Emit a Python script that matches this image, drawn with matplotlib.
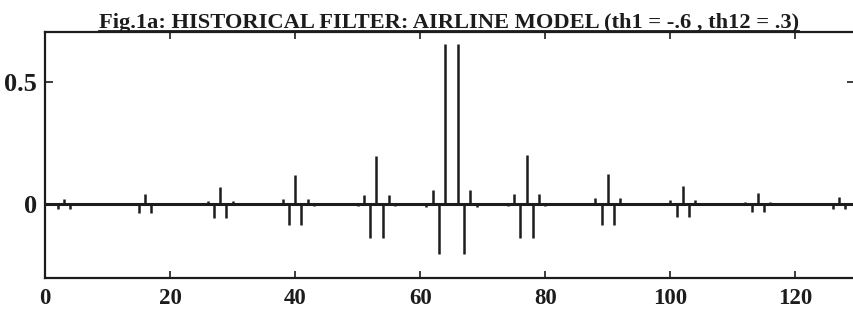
import matplotlib.pyplot as plt
from matplotlib.lines import Line2D

plt.rcParams['font.family'] = ['Liberation Serif', 'DejaVu Serif']

# filter weights (lag position, weight)
lags = [2, 3, 4,
        15, 16, 17,
        25, 26, 27, 28, 29, 30, 31,
        37, 38, 39, 40, 41, 42, 43,
        50, 51, 52, 53, 54, 55, 56,
        61, 62, 63, 64, 66, 67, 68, 69,
        74, 75, 76, 77, 78, 79, 80,
        87, 88, 89, 90, 91, 92, 93,
        100, 101, 102, 103, 104,
        112, 113, 114, 115, 116,
        125, 126, 127, 128]
weights = [-0.022, 0.02, -0.022,
           -0.037, 0.041, -0.037,
           -0.004, 0.012, -0.056, 0.068, -0.056, 0.012, -0.004,
           -0.005, 0.02, -0.087, 0.119, -0.087, 0.02, -0.008,
           -0.01, 0.038, -0.14, 0.198, -0.14, 0.038, -0.01,
           -0.012, 0.057, -0.205, 0.657, 0.657, -0.205, 0.057, -0.012,
           -0.008, 0.04, -0.138, 0.2, -0.138, 0.04, -0.01,
           -0.005, 0.023, -0.086, 0.123, -0.086, 0.023, -0.004,
           0.016, -0.052, 0.074, -0.052, 0.016,
           0.008, -0.034, 0.046, -0.034, 0.008,
           0.006, -0.022, 0.03, -0.022]

xticks = [0, 20, 40, 60, 80, 100, 120]
yticks = [0, 0.5]
yticklabels = ['0', '0.5']
title = 'Fig.1a: HISTORICAL FILTER: AIRLINE MODEL (th1 = -.6 , th12 = .3)'

ink = '#1c1c1c'

fig = plt.figure(figsize=(8.54, 3.13), dpi=100)
ax = fig.add_axes([45 / 854, 1 - 278 / 313, 1 - 45 / 854 + 0.001, (278 - 32) / 313])

ax.vlines(lags, 0, weights, color=ink, linewidth=1.8)
ax.axhline(0, color=ink, linewidth=2.2)

ax.set_xlim(0, 129.5)
ax.set_ylim(-0.303, 0.705)

for sp in ax.spines.values():
    sp.set_color(ink)
    sp.set_linewidth(1.6)

ax.set_xticks(xticks)
ax.set_xticklabels([str(v) for v in xticks], fontweight='bold')
ax.set_yticks(yticks)
ax.set_yticklabels(yticklabels, fontweight='bold')
ax.tick_params(axis='x', direction='in', length=5, width=1.2, top=True,
               labelsize=16.5, pad=7, colors=ink)
ax.tick_params(axis='y', direction='in', length=6, width=1.2, right=True,
               labelsize=19, pad=6, colors=ink)

t = fig.text(0.526, 1 - 28 / 313, title, ha='center', va='baseline',
             fontsize=16.2, fontweight='bold', color=ink)

# underline the title
fig.canvas.draw()
bb = t.get_window_extent().transformed(fig.transFigure.inverted())
uy = 1 - 30.5 / 313
fig.add_artist(Line2D([bb.x0, bb.x1], [uy, uy], color=ink, linewidth=1.3,
                      transform=fig.transFigure))

fig.savefig('out.png', dpi=100)
